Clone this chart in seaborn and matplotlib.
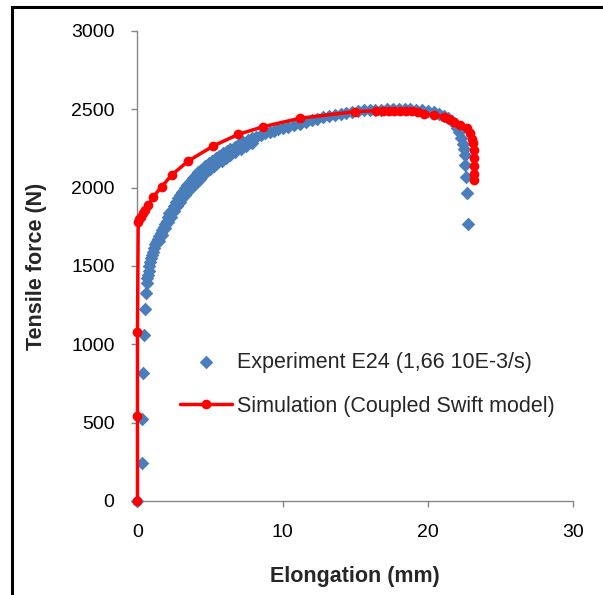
import matplotlib
matplotlib.use("Agg")
import matplotlib.pyplot as plt
import seaborn as sns
import pandas as pd
from matplotlib.patches import Rectangle

# ---- data ----
# experiment: upper-left edge of the measured band
exp_elong = [0.0, 0.30, 0.32, 0.39, 0.44, 0.49, 0.59, 0.63, 0.66, 0.70,
             0.76, 0.82, 0.88, 0.94, 1.00, 1.08, 1.16, 1.24, 1.32, 1.40,
             1.50, 1.60, 1.70, 1.80, 1.90, 2.00, 2.10, 2.20, 2.35, 2.50,
             2.65, 2.80, 2.95, 3.10, 3.25, 3.40, 3.60, 3.80, 4.00, 4.20,
             4.40, 4.65, 4.90, 5.15, 5.40, 5.65, 5.90, 6.15, 6.40, 6.70,
             7.00, 7.30, 7.60, 7.90, 8.20, 8.50, 8.80, 9.10, 9.40, 9.70,
             10.00, 10.40, 10.80, 11.20, 11.60, 12.00, 12.40, 12.80, 13.20, 13.60,
             14.00, 14.40, 14.80, 15.20, 15.60, 16.00, 16.40, 16.80, 17.20, 17.60,
             18.00, 18.40, 18.80, 19.20, 19.60, 20.00, 20.40, 20.80, 21.10, 21.40,
             21.65, 21.85, 22.00, 22.15, 22.28, 22.40, 22.50, 22.58, 22.54, 22.66,
             22.74, 22.77]
exp_force = [0, 244, 521, 815, 1060, 1225, 1330, 1390, 1420, 1440,
             1470, 1500, 1525, 1548, 1568, 1592, 1615, 1637, 1657, 1675,
             1690, 1710, 1730, 1750, 1770, 1790, 1810, 1836, 1860, 1885,
             1910, 1932, 1955, 1975, 1995, 2015, 2037, 2060, 2080, 2098,
             2115, 2135, 2155, 2172, 2188, 2203, 2218, 2232, 2246, 2262,
             2276, 2289, 2302, 2314, 2325, 2336, 2346, 2355, 2364, 2372,
             2380, 2390, 2398, 2408, 2418, 2429, 2439, 2448, 2456, 2464,
             2472, 2479, 2485, 2490, 2493, 2495, 2497, 2498, 2499, 2500,
             2500, 2500, 2500, 2498, 2494, 2488, 2480, 2469, 2458, 2442,
             2424, 2405, 2382, 2352, 2318, 2280, 2245, 2210, 2145, 2066,
             1964, 1766]
# experiment: lower-right edge of the band where it is widest
exp_low_elong = [1.50, 1.70, 1.90, 2.10, 2.30, 2.50, 2.70, 2.90, 3.10, 3.30,
                 3.50, 3.70, 3.90, 4.10, 4.30, 4.50, 4.75, 5.00, 5.25, 5.50,
                 5.80, 6.10, 6.40, 6.75, 7.10, 7.50, 7.90]
exp_low_force = [1660, 1700, 1740, 1780, 1815, 1850, 1880, 1907, 1932, 1955,
                 1977, 1998, 2018, 2037, 2055, 2080, 2100, 2120, 2138, 2155,
                 2173, 2192, 2210, 2228, 2247, 2265, 2282]

sim_elong = [0.0, 0.0, 0.0, 0.05, 0.13, 0.24, 0.40, 0.54, 0.74, 1.09,
             1.67, 2.36, 3.50, 5.22, 6.95, 8.67, 11.20, 15.00, 16.46, 16.90,
             17.30, 17.70, 18.10, 18.50, 18.90, 19.30, 19.71, 20.40, 21.09, 21.50,
             21.78, 22.20, 22.70, 22.93, 23.05, 23.12, 23.16, 23.16, 23.18, 23.18,
             23.20]
sim_force = [0, 540, 1080, 1783, 1800, 1815, 1836, 1860, 1889, 1942,
             2006, 2081, 2170, 2266, 2340, 2389, 2443, 2485, 2491, 2492,
             2492, 2491, 2490, 2489, 2486, 2480, 2470, 2464, 2453, 2440,
             2421, 2400, 2379, 2347, 2310, 2283, 2240, 2190, 2140, 2090,
             2050]

x_ticks = [0, 10, 20, 30]
y_ticks = [0, 500, 1000, 1500, 2000, 2500, 3000]
exp_label = "Experiment E24 (1,66 10E-3/s)"
sim_label = "Simulation (Coupled Swift model)"
x_title = "Elongation (mm)"
y_title = "Tensile force (N)"

exp_df = pd.DataFrame({"x": exp_elong + exp_low_elong,
                       "y": exp_force + exp_low_force})
sim_df = pd.DataFrame({"x": sim_elong, "y": sim_force})

sns.set_theme(style="white")
plt.rcParams["font.family"] = ["Liberation Sans", "DejaVu Sans"]

fig = plt.figure(figsize=(6.03, 5.95), dpi=100)
ax = fig.add_axes([0.228, 0.158, 0.722, 0.790])

sns.scatterplot(data=exp_df, x="x", y="y", ax=ax, marker="D", s=48,
                color="#4A7EBB", linewidth=0, label=exp_label, zorder=2,
                clip_on=False)
sns.lineplot(data=sim_df, x="x", y="y", ax=ax, sort=False, estimator=None,
             color="#FF0000", linewidth=2.5, marker="o", markersize=7,
             markeredgewidth=0, label=sim_label, zorder=3, clip_on=False)

ax.set_xlim(0, 30)
ax.set_ylim(0, 3000)
ax.set_xticks(x_ticks)
ax.set_yticks(y_ticks)
ax.set_xlabel(x_title, fontsize=15.5, fontweight="bold", labelpad=18)
ax.set_ylabel(y_title, fontsize=15.5, fontweight="bold", labelpad=17)

for side in ["top", "right"]:
    ax.spines[side].set_visible(False)
for side in ["left", "bottom"]:
    ax.spines[side].set_color("#868686")
    ax.spines[side].set_linewidth(1.0)
ax.tick_params(axis="both", which="major", direction="out", length=4.5,
               width=1.0, color="#868686", labelsize=14, labelcolor="black",
               left=True, bottom=True)
ax.tick_params(axis="y", pad=12)
ax.tick_params(axis="x", pad=12)
for sp in ax.spines.values():
    sp.set_zorder(0.5)

leg = ax.legend(loc="upper left", bbox_to_anchor=(180 / 603, 1 - 352 / 595),
                bbox_transform=fig.transFigure, frameon=False, fontsize=15.5,
                handlelength=2.4, handletextpad=0.25, labelspacing=1.05,
                borderaxespad=0, borderpad=0)

fig.patches.append(Rectangle((11.5 / 603, -0.5), 2.0, 1.5 - 7 / 595,
                             transform=fig.transFigure, fill=False,
                             edgecolor="black", linewidth=2.2, zorder=10))

fig.savefig("out.png", dpi=100)
